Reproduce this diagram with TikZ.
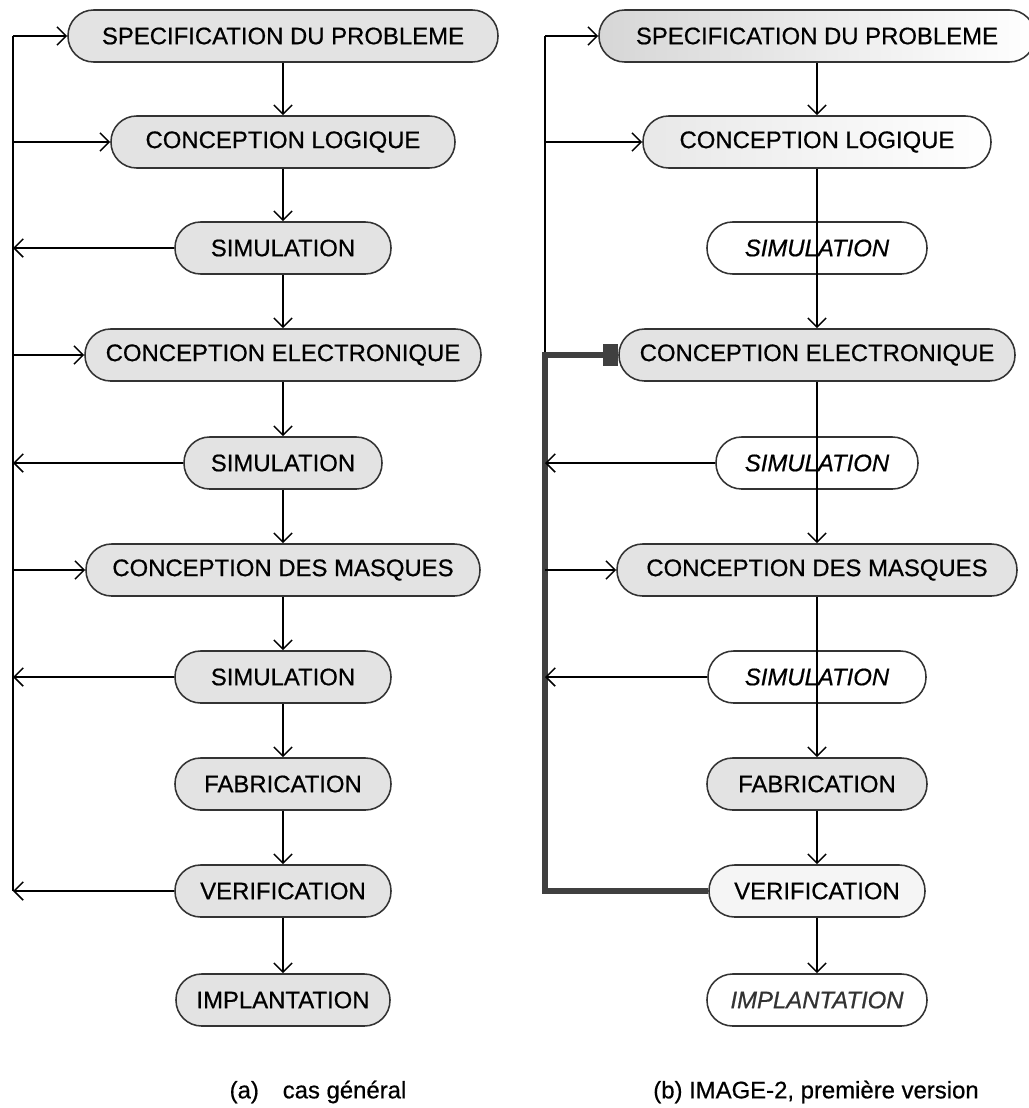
\documentclass[tikz,border=0pt]{standalone}
\usepackage{fontspec}
\setmainfont{Liberation Sans}[FakeBold=0.6]
\usetikzlibrary{arrows.meta,shapes.misc,positioning}

\begin{document}
\begin{tikzpicture}[line width=1.1pt, font=\fontsize{17}{20}\selectfont,
   arr/.style={-{Straight Barb[length=6.5pt,width=13pt]}},
   etape/.style={rectangle, rounded corners=0.64cm, draw=black!80, minimum height=1.3cm, inner xsep=0pt},
   grise/.style={fill=black!11},
   pale/.style={fill=black!4},
   vide/.style={fill=white, font=\fontsize{17}{20}\selectfont\itshape},
   fat/.style={line width=4.8pt, draw=black!75, line join=miter}]
   \useasboundingbox (0,0) rectangle (25.725,-27.7);
   \coordinate (ga) at (0.325,0);
   \coordinate (gb) at (13.625,0);
   % (a) cas general
   \begin{scope}[every node/.style={etape,grise}]
    \node (a1) [minimum width=10.75cm] at (7.075,-0.9) {SPECIFICATION DU PROBLEME};
    \node (a2) [minimum width=8.6cm] at (7.075,-3.55) {CONCEPTION LOGIQUE};
    \node (a3) [minimum width=5.4cm] at (7.075,-6.2) {SIMULATION};
    \node (a4) [minimum width=9.9cm] at (7.075,-8.875) {CONCEPTION ELECTRONIQUE};
    \node (a5) [minimum width=4.95cm] at (7.075,-11.575) {SIMULATION};
    \node (a6) [minimum width=9.85cm] at (7.075,-14.25) {CONCEPTION DES MASQUES};
    \node (a7) [minimum width=5.4cm] at (7.075,-16.925) {SIMULATION};
    \node (a8) [minimum width=5.4cm] at (7.075,-19.6) {FABRICATION};
    \node (a9) [minimum width=5.4cm] at (7.075,-22.275) {VERIFICATION};
    \node (a10) [minimum width=5.35cm] at (7.075,-25.0) {IMPLANTATION};
   \end{scope}
   \begin{scope}[every edge/.style={draw,arr}]
    \draw (a1) edge (a2) (a2) edge (a3) (a3) edge (a4) (a4) edge (a5) (a5) edge (a6);
    \draw (a6) edge (a7) (a7) edge (a8) (a8) edge (a9) (a9) edge (a10);
   \end{scope}
   % retours vers la gauche
   \draw (a1.west -| ga) -- (a9.west -| ga);
   \draw[arr] (a1.west -| ga) -- (a1.west);
   \draw[arr] (a2.west -| ga) -- (a2.west);
   \draw[arr] (a4.west -| ga) -- (a4.west);
   \draw[arr] (a6.west -| ga) -- (a6.west);
   \draw[arr] (a3.west) -- (a3.west -| ga);
   \draw[arr] (a5.west) -- (a5.west -| ga);
   \draw[arr] (a7.west) -- (a7.west -| ga);
   \draw[arr] (a9.west) -- (a9.west -| ga);

   % (b) IMAGE-2
   \begin{scope}[every node/.style={etape}]
    \node (b1) [minimum width=10.9cm, left color=black!16, right color=white] at (20.425,-0.9) {SPECIFICATION DU PROBLEME};
    \node (b2) [minimum width=8.7cm, left color=black!9, right color=white] at (20.425,-3.55) {CONCEPTION LOGIQUE};
    \node (b3) [minimum width=5.5cm, vide] at (20.425,-6.2) {SIMULATION};
    \node (b4) [minimum width=9.9cm, grise] at (20.425,-8.875) {CONCEPTION ELECTRONIQUE};
    \node (b5) [minimum width=5.05cm, vide] at (20.425,-11.575) {SIMULATION};
    \node (b6) [minimum width=10cm, grise] at (20.425,-14.25) {CONCEPTION DES MASQUES};
    \node (b7) [minimum width=5.45cm, vide] at (20.425,-16.925) {SIMULATION};
    \node (b8) [minimum width=5.5cm, grise] at (20.425,-19.6) {FABRICATION};
    \node (b9) [minimum width=5.4cm, pale] at (20.425,-22.275) {VERIFICATION};
    \node (b10) [minimum width=5.5cm, vide, text=black!80] at (20.425,-25.0) {IMPLANTATION};
   \end{scope}
   \begin{scope}[every edge/.style={draw,arr}]
    \draw (b1) edge (b2) (b2) edge (b4) (b4) edge (b6) (b6) edge (b8);
    \draw (b8) edge (b9) (b9) edge (b10);
   \end{scope}
   \draw (b1.west -| gb) -- (b4.west -| gb);
   \draw[fat, -{Rectangle[length=11pt,width=16pt]}] (b9.west) -- (b9.west -| gb) -- (b4.west -| gb) -- (b4.west);
   \draw[arr] (b1.west -| gb) -- (b1.west);
   \draw[arr] (b2.west -| gb) -- (b2.west);
   \draw[arr] (b6.west -| gb) -- (b6.west);
   \draw[arr] (b5.west) -- (b5.west -| gb);
   \draw[arr] (b7.west) -- (b7.west -| gb);

   % legendes
   \node (ca) at (7.95,-27.3) {(a)\quad cas général};
   \node (cb) at (20.4,-27.3) {(b) IMAGE-2, première version};
\end{tikzpicture}
\end{document}
